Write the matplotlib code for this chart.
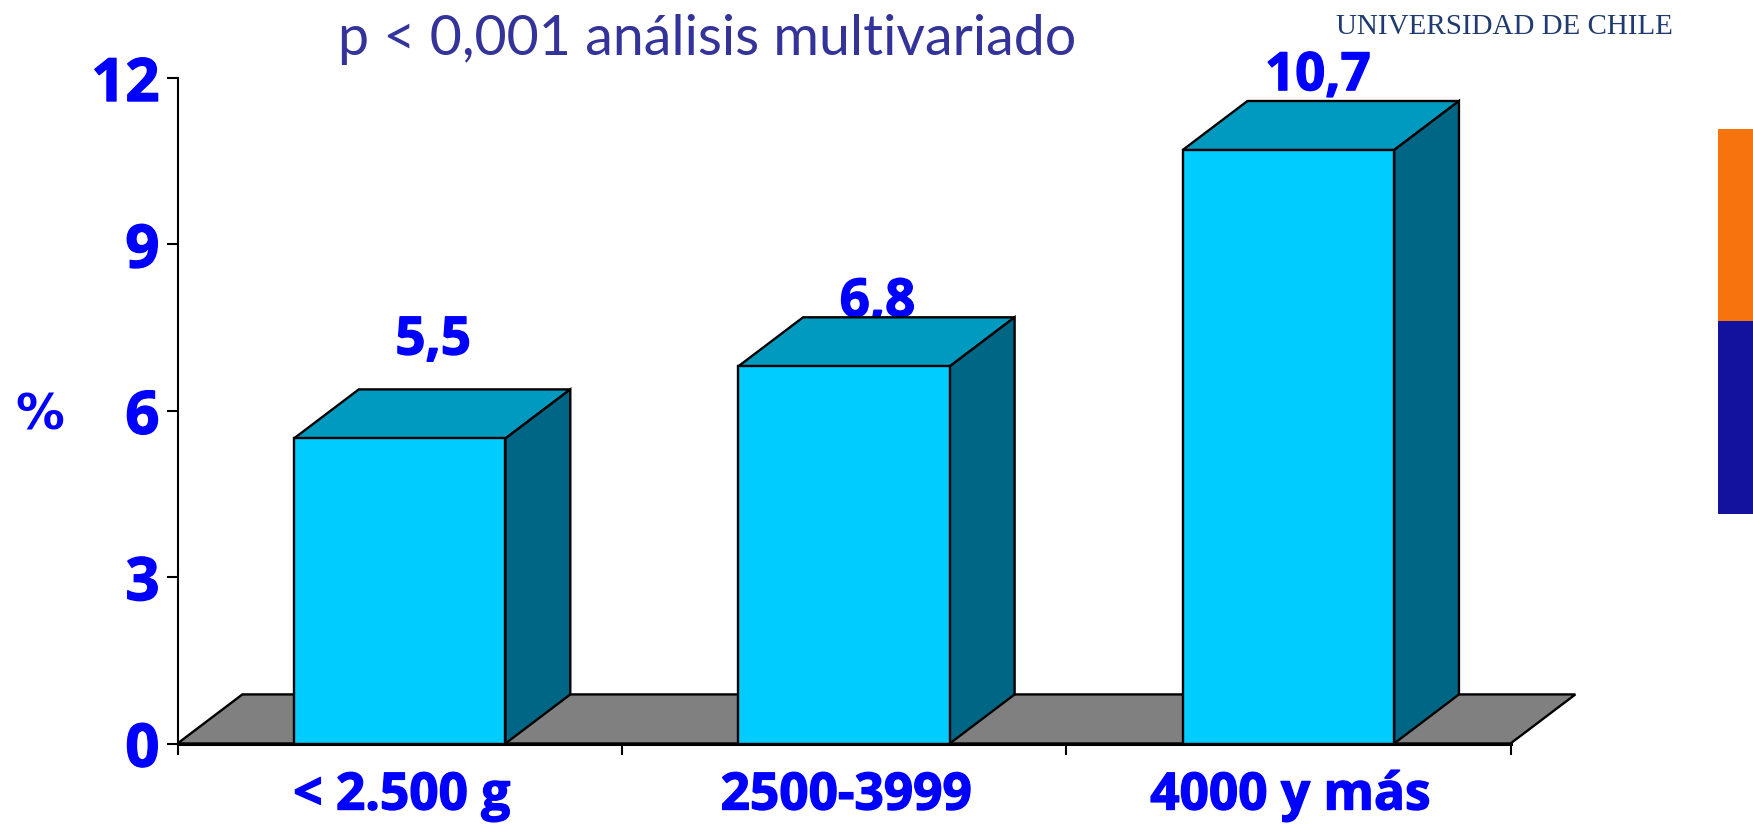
import matplotlib
matplotlib.use('Agg')
import matplotlib.pyplot as plt
import matplotlib.patheffects as pe
from matplotlib.patches import Rectangle

categories = ['< 2.500 g', '2500-3999', '4000 y más']
values = [5.5, 6.8, 10.7]
value_labels = ['5,5', '6,8', '10,7']
label_lift = [84, 50, 60]  # px above the front top edge, differs per bar in the original
label_shift = [1, 1, -3]  # px sideways from the box centre
y_ticks = [0, 3, 6, 9, 12]
x_edges = [0, 1, 2, 3]

W, H = 1753, 824
BLUE = '#0000FF'
depth_x = 0.146
depth_y = 0.885
bar_width = 0.476
lw = 1.7
heavy = [pe.withStroke(linewidth=1.0, foreground=BLUE)]

fig = plt.figure(figsize=(W / 100, H / 100), dpi=100, facecolor='white')
# axes box in pixels: x 177.5-1510.5, y 78-743.5 from the top
ax = fig.add_axes([177.5 / W, 1 - 743.5 / H, 1333 / W, 665.5 / H])
ax.set_xlim(0, 3)
ax.set_ylim(0, 12)
ax.patch.set_alpha(0)

# floor
ax.fill([0, depth_x, 3 + depth_x, 3], [0, depth_y, depth_y, 0], facecolor='#808080',
        edgecolor='black', linewidth=lw, clip_on=False, zorder=1)

# value labels sit behind the boxes, the commas get cut off by the top faces
centers = [i + 0.5 for i in range(len(values))]
for c, v, lab, lift, shift in zip(centers, values, value_labels, label_lift, label_shift):
    ax.annotate(lab, xy=(c + depth_x / 2, v), xytext=(shift * 0.72, lift * 0.72), textcoords='offset points',
                ha='center', va='baseline', fontsize=38, fontweight='bold', family='Open Sans',
                color=BLUE, annotation_clip=False, zorder=2, path_effects=heavy)

# 3d boxes
for c, v in zip(centers, values):
    x0, x1 = c - bar_width / 2, c + bar_width / 2
    ax.fill([x0, x0 + depth_x, x1 + depth_x, x1], [v, v + depth_y, v + depth_y, v],
            facecolor='#0099BF', edgecolor='black', linewidth=lw, clip_on=False, zorder=3)
    ax.fill([x1, x1 + depth_x, x1 + depth_x, x1], [0, depth_y, v + depth_y, v],
            facecolor='#006685', edgecolor='black', linewidth=lw, clip_on=False, zorder=3)
ax.bar(centers, values, width=bar_width, color='#00CCFF', edgecolor='black', linewidth=lw, zorder=4)

for s in ['top', 'right']:
    ax.spines[s].set_visible(False)
ax.spines['left'].set_linewidth(1.5)
ax.spines['bottom'].set_linewidth(2.2)
ax.spines['bottom'].set_zorder(5)

ax.set_yticks(y_ticks)
ax.set_yticklabels([str(t) for t in y_ticks], fontsize=43, fontweight='bold', family='Open Sans',
                   color=BLUE, path_effects=heavy)
ax.tick_params(axis='y', length=8, width=1.5, color='black', pad=5)
ax.set_xticks(x_edges)
ax.set_xticklabels([])
ax.tick_params(axis='x', length=7.7, width=1.5, color='black')
for c, cat in zip(centers, categories):
    ax.annotate(cat, xy=(c, 0), xytext=(1.5, -66 * 0.72), textcoords='offset points', ha='center',
                va='baseline', fontsize=37, fontweight='bold', family='Open Sans', color=BLUE,
                annotation_clip=False, path_effects=heavy)

ax.set_ylabel('%', rotation=0, fontsize=35, fontweight='bold', color=BLUE, ha='center', va='center')
ax.yaxis.set_label_coords((40 - 177.5) / 1333, (743.5 - 416) / 665.5)

fig.text(707 / W, 1 - 55 / H, 'p < 0,001 análisis multivariado', ha='center', va='baseline',
         fontsize=40, family='Lato', color='#333399')
fig.text(1504 / W, 1 - 34 / H, 'UNIVERSIDAD DE CHILE', ha='center', va='baseline',
         fontsize=20.9, family='Liberation Serif', color='#1F3A6E')

# side stripes of the slide
fig.add_artist(Rectangle((1718 / W, 1 - 321 / H), 35 / W, 192 / H, transform=fig.transFigure,
                         facecolor='#F7730E', edgecolor='none'))
fig.add_artist(Rectangle((1718 / W, 1 - 514 / H), 35 / W, 193 / H, transform=fig.transFigure,
                         facecolor='#13129E', edgecolor='none'))

fig.savefig('out.png', dpi=100)
